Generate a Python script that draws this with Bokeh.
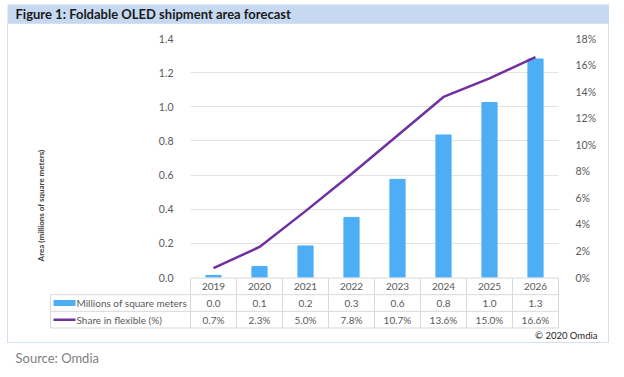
import math
from bokeh.plotting import figure
from bokeh.models import (FactorRange, Range1d, LinearAxis, FixedTicker, PrintfTickFormatter, Grid)
from bokeh.layouts import column
from bokeh.embed import file_html
from bokeh.resources import INLINE
from bokeh.core.properties import value

# ---------------- data ----------------
years = ["2019", "2020", "2021", "2022", "2023", "2024", "2025", "2026"]
area = [0.012, 0.065, 0.185, 0.352, 0.575, 0.835, 1.025, 1.28]          # millions of m2
share = [0.7, 2.3, 5.0, 7.8, 10.7, 13.6, 15.0, 16.6]                     # %
area_labels = ["0.0", "0.1", "0.2", "0.3", "0.6", "0.8", "1.0", "1.3"]
share_labels = ["0.7%", "2.3%", "5.0%", "7.8%", "10.7%", "13.6%", "15.0%", "16.6%"]
series_names = ["Millions of square meters", "Share in flexible (%)"]
left_ticks = [0.0, 0.2, 0.4, 0.6, 0.8, 1.0, 1.2, 1.4]
right_ticks = [0, 2, 4, 6, 8, 10, 12, 14, 16, 18]
title_text = "Figure 1: Foldable OLED shipment area forecast"
y_title = "Area (millions of square meters)"
copyright_text = "\u00a9 2020 Omdia"
source_text = "Source: Omdia"

BAR = "#4DAEF6"
LINE = "#7030A0"
GRID = "#E3E3E3"
TXT = "#595959"
TBL = "#D9D9D9"
FONT = "Lato"

# ---------------- title bar ----------------
pT = figure(width=602, height=19, x_range=Range1d(0, 602), y_range=Range1d(0, 19),
            min_border=0, toolbar_location=None, output_backend="svg",
            x_axis_location=None, y_axis_location=None)
pT.grid.visible = False
pT.outline_line_color = None
pT.background_fill_color = "#C6D9F1"
pT.border_fill_color = "#C6D9F1"
pT.text(x=[8], y=[9.5], text=[title_text], text_font=value(FONT), text_font_style="bold",
        text_font_size="13px", text_color="#1A1A1A", text_baseline="middle", text_align="left")

# ---------------- chart ----------------
pA = figure(width=600, height=261, x_range=FactorRange(*years), y_range=Range1d(0, 1.4),
            min_border_left=182, min_border_right=50, min_border_top=14, min_border_bottom=8,
            toolbar_location=None, output_backend="svg", x_axis_location=None)
pA.outline_line_color = None
pA.xgrid.visible = False
pA.ygrid.grid_line_color = GRID
pA.yaxis.ticker = FixedTicker(ticks=left_ticks)
pA.yaxis.formatter = PrintfTickFormatter(format="%.1f")

pA.extra_y_ranges = {"pct": Range1d(0, 18)}
raxis = LinearAxis(y_range_name="pct", ticker=FixedTicker(ticks=right_ticks),
                   formatter=PrintfTickFormatter(format="%d%%"))
pA.add_layout(raxis, "right")
pA.add_layout(Grid(dimension=1, axis=raxis, grid_line_color=GRID))

for ax in pA.yaxis:
    ax.axis_line_color = None
    ax.major_tick_line_color = None
    ax.minor_tick_line_color = None
    ax.major_label_text_color = TXT
    ax.major_label_text_font = FONT
    ax.major_label_text_font_size = "10.5px"
    ax.major_label_standoff = 11

pA.vbar(x=years, top=area, width=0.33, fill_color=BAR, line_color=BAR)
pA.line(x=years, y=share, y_range_name="pct", line_color=LINE, line_width=2.5)

# ---------------- data table (transparent overlay, also carries the y title) ----------------
n = len(years)
PX_X = 46.0          # pixels per table column
PX_Y = 50.0 / 3.0    # pixels per table row
top_px = 277.5 - 140  # overlay starts 140px on page
xb0 = -182 / PX_X
pB = figure(width=600, height=202, x_range=Range1d(xb0, xb0 + 600 / PX_X),
            y_range=Range1d(-(202 - top_px) / PX_Y, top_px / PX_Y), min_border=0,
            toolbar_location=None, output_backend="svg", x_axis_location=None,
            y_axis_location=None, styles={"margin-top": "-145px"})
pB.frame_align = False
pB.grid.visible = False
pB.outline_line_color = None
pB.background_fill_alpha = 0
pB.border_fill_alpha = 0

leg_left = (50 - 190) / PX_X
hx0 = [0, leg_left, leg_left, leg_left]
hx1 = [n, n, n, n]
hy = [0, -1, -2, -3]
pB.segment(x0=hx0, y0=hy, x1=hx1, y1=hy, line_color=TBL, line_width=1)
vx = [leg_left] + list(range(n + 1))
vy0 = [-1] + [0] * (n + 1)
vy1 = [-3] * (n + 2)
pB.segment(x0=vx, y0=vy0, x1=vx, y1=vy1, line_color=TBL, line_width=1)

cx = [i + 0.5 for i in range(n)]
common = dict(text_font=value(FONT), text_font_size="10px", text_color=TXT,
              text_align="center", text_baseline="middle")
pB.text(x=cx, y=[-0.5] * n, text=years, **common)
pB.text(x=cx, y=[-1.5] * n, text=area_labels, **common)
pB.text(x=cx, y=[-2.5] * n, text=share_labels, **common)

key_l = (53 - 190) / PX_X
key_r = (75 - 190) / PX_X
pB.quad(left=[key_l], right=[key_r], top=[-1.32], bottom=[-1.68], fill_color=BAR, line_color=None)
pB.line(x=[key_l, key_r], y=[-2.5, -2.5], line_color=LINE, line_width=2.5)
pB.text(x=[(76 - 190) / PX_X] * 2, y=[-1.5, -2.5], text=series_names,
        text_font=value(FONT), text_font_size="10px", text_color=TXT,
        text_align="left", text_baseline="middle")
pB.text(x=[(597 - 190) / PX_X], y=[-3.45], text=[copyright_text], text_font=value(FONT),
        text_font_size="9.5px", text_color="#262626", text_align="right", text_baseline="middle")

# vertical axis title
pB.text(x=[(40 - 190) / PX_X], y=[(277.5 - 205) / PX_Y], text=[y_title], angle=math.pi / 2,
        text_font=value(FONT), text_font_size="8px", text_font_style="bold",
        text_color="#404040", text_align="center", text_baseline="middle")

inner = column(pA, pB, spacing=0, styles={"border": "1px solid #D5E0EE"})

# ---------------- source ----------------
pS = figure(width=602, height=26, x_range=Range1d(0, 602), y_range=Range1d(0, 26),
            min_border=0, toolbar_location=None, output_backend="svg",
            x_axis_location=None, y_axis_location=None)
pS.grid.visible = False
pS.outline_line_color = None
pS.text(x=[8], y=[12], text=[source_text], text_font=value(FONT), text_font_size="13px",
        text_color="#7F7F7F", text_baseline="middle", text_align="left")

root = column(pT, inner, pS, spacing=0, styles={"margin-top": "4px", "margin-left": "7px"})

open("out.html", "w").write(file_html(root, INLINE))
